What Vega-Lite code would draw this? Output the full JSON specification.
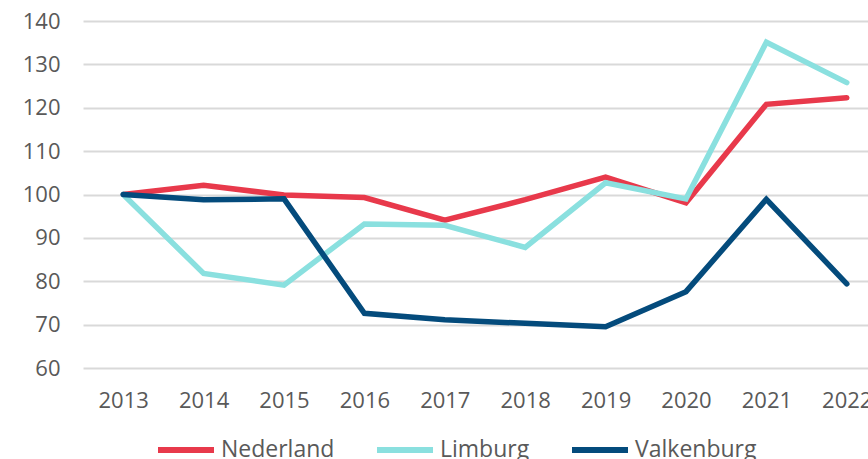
{
  "$schema": "https://vega.github.io/schema/vega-lite/v6.json",
  "width": 785,
  "height": 347,
  "autosize": {"type": "none"},
  "padding": {"left": 83, "top": 21, "right": 0, "bottom": 91},
  "background": "white",
  "config": {
    "view": {"stroke": null},
    "font": "Open Sans",
    "axis": {"labelFont": "Open Sans", "labelColor": "#595959", "labelFontSize": 22, "domain": false, "ticks": false, "title": null},
    "legend": {"labelFont": "Open Sans"}
  },
  "data": {"values": [
    {"year": 2013, "series": "Nederland", "value": 100},
    {"year": 2014, "series": "Nederland", "value": 102.1},
    {"year": 2015, "series": "Nederland", "value": 99.9},
    {"year": 2016, "series": "Nederland", "value": 99.3},
    {"year": 2017, "series": "Nederland", "value": 94.1},
    {"year": 2018, "series": "Nederland", "value": 98.8},
    {"year": 2019, "series": "Nederland", "value": 104.0},
    {"year": 2020, "series": "Nederland", "value": 98.1},
    {"year": 2021, "series": "Nederland", "value": 120.8},
    {"year": 2022, "series": "Nederland", "value": 122.3},
    {"year": 2013, "series": "Limburg", "value": 100},
    {"year": 2014, "series": "Limburg", "value": 81.8},
    {"year": 2015, "series": "Limburg", "value": 79.1},
    {"year": 2016, "series": "Limburg", "value": 93.2},
    {"year": 2017, "series": "Limburg", "value": 92.9},
    {"year": 2018, "series": "Limburg", "value": 87.8},
    {"year": 2019, "series": "Limburg", "value": 102.7},
    {"year": 2020, "series": "Limburg", "value": 99.0},
    {"year": 2021, "series": "Limburg", "value": 135.1},
    {"year": 2022, "series": "Limburg", "value": 125.8},
    {"year": 2013, "series": "Valkenburg", "value": 100},
    {"year": 2014, "series": "Valkenburg", "value": 98.8},
    {"year": 2015, "series": "Valkenburg", "value": 99.0},
    {"year": 2016, "series": "Valkenburg", "value": 72.6},
    {"year": 2017, "series": "Valkenburg", "value": 71.1},
    {"year": 2018, "series": "Valkenburg", "value": 70.3},
    {"year": 2019, "series": "Valkenburg", "value": 69.5},
    {"year": 2020, "series": "Valkenburg", "value": 77.6},
    {"year": 2021, "series": "Valkenburg", "value": 98.9},
    {"year": 2022, "series": "Valkenburg", "value": 79.4}
  ]},
  "mark": {"type": "line", "strokeWidth": 5.5, "strokeCap": "round", "strokeJoin": "miter", "clip": false},
  "encoding": {
    "x": {
      "field": "year", "type": "quantitative",
      "scale": {"domain": [2012.5, 2022.264], "nice": false, "zero": false},
      "axis": {"values": [2013, 2014, 2015, 2016, 2017, 2018, 2019, 2020, 2021, 2022], "format": "d", "grid": false, "labelPadding": 22, "labelFlush": false, "labelOverlap": false}
    },
    "y": {
      "field": "value", "type": "quantitative",
      "scale": {"domain": [60, 140], "nice": false, "zero": false},
      "axis": {"values": [60, 70, 80, 90, 100, 110, 120, 130, 140], "gridColor": "#d9d9d9", "gridWidth": 2, "labelPadding": 23}
    },
    "color": {
      "field": "series", "type": "nominal",
      "sort": ["Nederland", "Limburg", "Valkenburg"],
      "scale": {"domain": ["Nederland", "Limburg", "Valkenburg"], "range": ["#E8394B", "#8AE0DF", "#044B7C"]},
      "legend": {
        "title": null, "orient": "none", "direction": "horizontal",
        "legendX": 72, "legendY": 398,
        "symbolType": "stroke", "symbolSize": 3136, "symbolStrokeWidth": 6,
        "labelFontSize": 23, "labelColor": "#595959", "labelOffset": 4, "labelLimit": 300,
        "columnPadding": 30
      }
    }
  }
}
